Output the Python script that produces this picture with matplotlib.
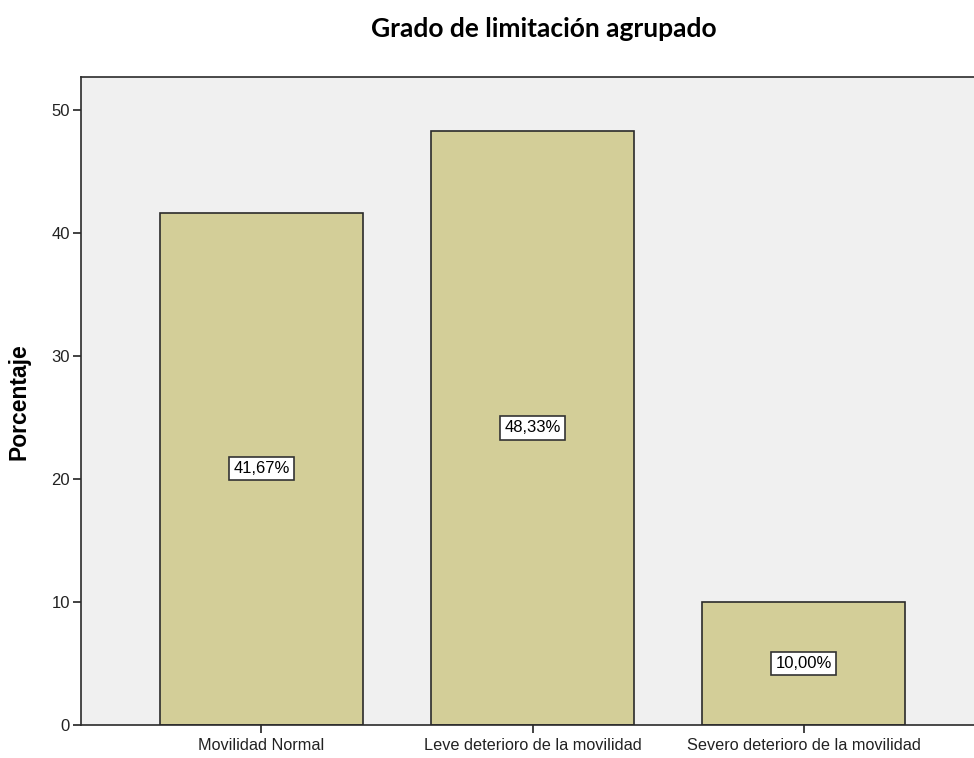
import matplotlib
matplotlib.use("Agg")
import matplotlib.pyplot as plt

# Datos: grado de limitación agrupado (porcentaje)
categorias = ["Movilidad Normal", "Leve deterioro de la movilidad", "Severo deterioro de la movilidad"]
porcentajes = [41.67, 48.33, 10.00]
etiquetas = ["41,67%", "48,33%", "10,00%"]

plt.rcParams["font.family"] = ["Liberation Sans", "DejaVu Sans"]

fig = plt.figure(figsize=(9.74, 7.58), dpi=100)
ax = fig.add_axes([81 / 974, 1 - 725 / 758, 1 - 81 / 974, (725 - 77) / 758])
ax.set_facecolor("#f0f0f0")

x = range(len(categorias))
ax.bar(x, porcentajes, width=0.75, color="#d3ce98", edgecolor="#2b2b2b", linewidth=1.2, zorder=2)

# etiquetas en el centro de cada barra
for i, (v, txt) in enumerate(zip(porcentajes, etiquetas)):
    ax.text(i, v / 2, txt, ha="center", va="center", fontsize=12, color="black", zorder=3,
            bbox=dict(boxstyle="square,pad=0.25", facecolor="white", edgecolor="#333333", linewidth=1.2))

ax.set_xlim(-0.666, 2.629)
ax.set_ylim(0, 52.7)
ax.set_yticks([0, 10, 20, 30, 40, 50])
ax.set_xticks(list(x))
ax.set_xticklabels(categorias, fontsize=11.7, color="#222222")
ax.tick_params(axis="y", labelsize=12, length=6, width=1.2, colors="#222222", pad=2)
ax.tick_params(axis="x", length=6, width=1.2, colors="#222222", pad=3)

for s in ["left", "bottom", "top"]:
    ax.spines[s].set_color("#2b2b2b")
    ax.spines[s].set_linewidth(1.2)
ax.spines["right"].set_visible(False)

ax.set_ylabel("Porcentaje", fontsize=16.5, fontweight="bold")
ax.yaxis.set_label_coords((31 - 81) / 893, (725 - 402) / 648)
fig.text(544 / 974, 1 - 29 / 758, "Grado de limitación agrupado", ha="center", va="center",
         fontsize=19, fontweight="bold", family=["Lato", "DejaVu Sans"])

fig.savefig("out.png", dpi=100)
